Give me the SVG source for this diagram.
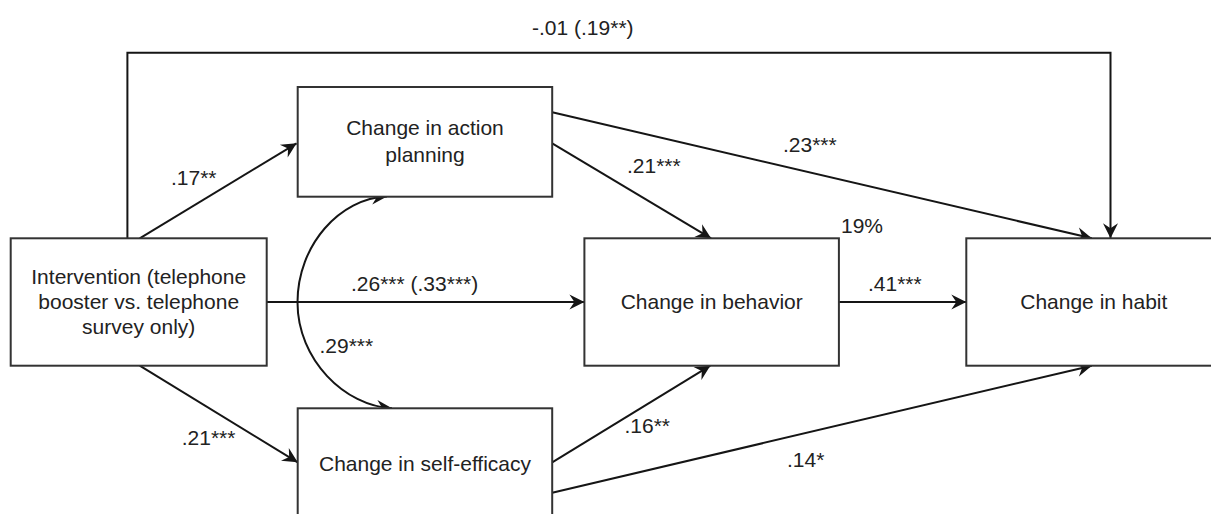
<svg xmlns="http://www.w3.org/2000/svg" width="1211" height="514" viewBox="0 0 1211 514">
  <style>
    .box { fill: #ffffff; stroke: #333333; stroke-width: 2; }
    .lbl { font-family: "Liberation Sans", Arial, sans-serif; font-size: 21px; fill: #222222; }
    .mid { text-anchor: middle; }
    .edge { fill: none; stroke: #151515; stroke-width: 2; marker-end: url(#arrow); }
    .both { marker-start: url(#arrow); }
  </style>
  <defs>
    <marker id="arrow" markerUnits="userSpaceOnUse" viewBox="-17 -9 18 18" markerWidth="18" markerHeight="18" refX="0" refY="0" orient="auto-start-reverse" overflow="visible">
      <path d="M0,0 L-15,-7.5 L-10,0 L-15,7.5 Z" fill="#151515"/>
    </marker>
  </defs>

  <rect width="1211" height="514" fill="#ffffff"/>

  <!-- paths between constructs -->
  <g id="connectors">
    <path class="edge" d="M127.4,238.3 V52.7 H1110.5 V238.3"/>
    <path class="edge" d="M139.7,238.3 L296.6,143.3"/>
    <path class="edge" d="M139.7,365.7 L297.7,462.3"/>
    <path class="edge" d="M266.7,302 L584.4,302"/>
    <path class="edge" d="M552.2,143.3 L711.1,238.3"/>
    <path class="edge" d="M552.2,112.3 L1091.8,238.3"/>
    <path class="edge" d="M838.9,302 L966.3,302"/>
    <path class="edge" d="M552.2,462.3 L710.3,365.7"/>
    <path class="edge" d="M552.2,492.7 L1091.8,365.7"/>
    <!-- correlation between the two mediators -->
    <path class="edge both" d="M387,196.5 C340,198 297.5,245 297.5,302.3 C297.5,360 345,406 392,408.3"/>
  </g>

  <g id="edge-labels">
    <text class="lbl" x="532" y="35">-.01 (.19**)</text>
    <text class="lbl" x="171" y="185">.17**</text>
    <text class="lbl" x="627" y="172.7">.21***</text>
    <text class="lbl" x="783" y="151.7">.23***</text>
    <text class="lbl" x="841" y="233.3">19%</text>
    <text class="lbl" x="351" y="291">.26*** (.33***)</text>
    <text class="lbl" x="868" y="291">.41***</text>
    <text class="lbl" x="319.5" y="353">.29***</text>
    <text class="lbl" x="181.7" y="445">.21***</text>
    <text class="lbl" x="624.5" y="433.3">.16**</text>
    <text class="lbl" x="787" y="467.3">.14*</text>
  </g>

  <g id="intervention">
    <rect class="box" x="10.7" y="238.3" width="256" height="127.4"/>
    <text class="lbl mid" x="138.7" y="284.3">Intervention (telephone</text>
    <text class="lbl mid" x="138.7" y="309.3">booster vs. telephone</text>
    <text class="lbl mid" x="138.7" y="334.3">survey only)</text>
  </g>

  <g id="action-planning">
    <rect class="box" x="297.7" y="87" width="254.5" height="109.7"/>
    <text class="lbl mid" x="425" y="135">Change in action</text>
    <text class="lbl mid" x="425" y="162">planning</text>
  </g>

  <g id="behavior">
    <rect class="box" x="584.4" y="238.3" width="254.5" height="127.4"/>
    <text class="lbl mid" x="711.7" y="309.3">Change in behavior</text>
  </g>

  <g id="habit">
    <rect class="box" x="966.3" y="238.3" width="255" height="127.4"/>
    <text class="lbl mid" x="1093.8" y="309.3">Change in habit</text>
  </g>

  <g id="self-efficacy">
    <rect class="box" x="297.7" y="408.3" width="254.5" height="127"/>
    <text class="lbl mid" x="425" y="470.7">Change in self-efficacy</text>
  </g>
</svg>
